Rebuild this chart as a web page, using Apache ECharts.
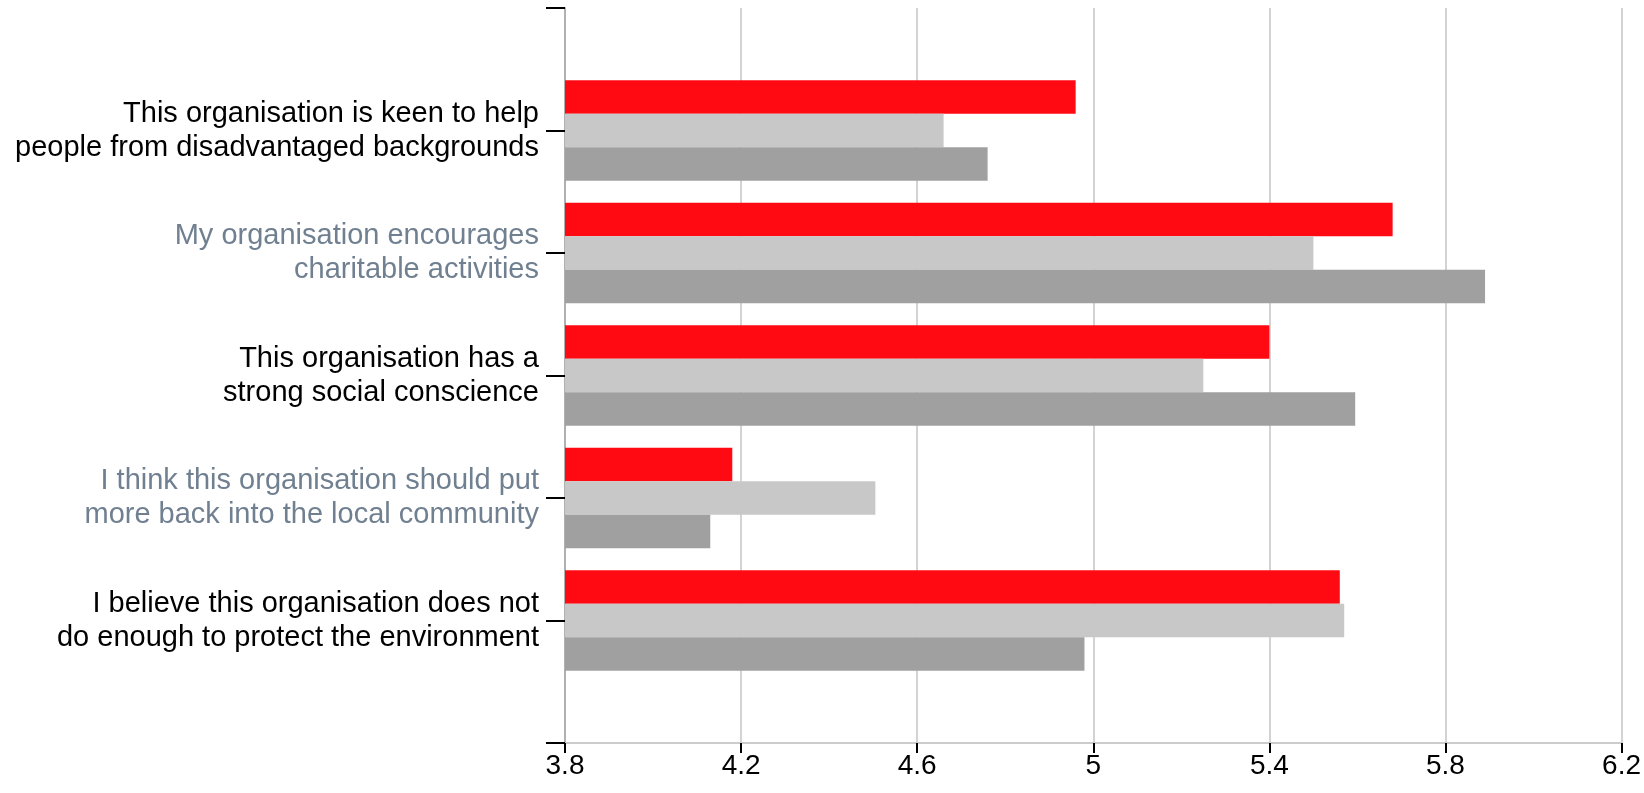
<!DOCTYPE html>
<html>
<head>
<meta charset="utf-8">
<script src="https://cdn.jsdelivr.net/npm/echarts@6/dist/echarts.min.js"></script>
<style>
  html, body { margin: 0; padding: 0; background: #ffffff; }
  #chart { width: 1644px; height: 793px; }
</style>
</head>
<body>
<div id="chart"></div>
<script>
const categories = [
  'This organisation is keen to help\npeople from disadvantaged backgrounds',
  'My organisation encourages\ncharitable activities',
  'This organisation has a\nstrong social conscience',
  'I think this organisation should put\nmore back into the local community',
  'I believe this organisation does not\ndo enough to protect the environment'
];
const seriesNames = ['Series 1', 'Series 2', 'Series 3'];
const redValues = [4.96, 5.68, 5.40, 4.18, 5.56];
const lightValues = [4.66, 5.50, 5.25, 4.505, 5.57];
const darkValues = [4.76, 5.89, 5.595, 4.13, 4.98];
const xTicks = [3.8, 4.2, 4.6, 5.0, 5.4, 5.8, 6.2];
const labelColors = ['#000000', '#708090', '#000000', '#708090', '#000000'];

const axisCats = [''].concat(categories, ['']);
const pad = (arr) => [null].concat(arr, [null]);
const font = '"Liberation Sans", Arial, Helvetica, sans-serif';

const chart = echarts.init(document.getElementById('chart'), null, { renderer: 'canvas' });
chart.setOption({
  animation: false,
  backgroundColor: '#ffffff',
  textStyle: { fontFamily: font },
  grid: { left: 565, right: 22, top: 8, bottom: 50, containLabel: false },
  xAxis: {
    type: 'value',
    min: xTicks[0],
    max: xTicks[xTicks.length - 1],
    interval: 0.4,
    axisLine: { show: true, lineStyle: { color: '#cccccc', width: 2 } },
    axisTick: { show: true, length: 10, lineStyle: { color: '#000000', width: 2 } },
    splitLine: { show: true, lineStyle: { color: '#d3d3d3', width: 2 } },
    axisLabel: {
      fontFamily: font, fontSize: 28, color: '#000000', margin: 9,
      formatter: (v) => String(Math.round(v * 10) / 10)
    }
  },
  yAxis: {
    type: 'category',
    data: axisCats,
    inverse: true,
    boundaryGap: false,
    axisLine: { show: true, lineStyle: { color: '#b0b0b0', width: 2 } },
    axisTick: { show: true, length: 19, interval: 0, lineStyle: { color: '#000000', width: 2 } },
    splitLine: { show: false },
    axisLabel: {
      interval: 0,
      margin: 26,
      fontFamily: font,
      fontSize: 29,
      lineHeight: 34,
      align: 'right',
      color: (value, index) => labelColors[(index || 0) - 1] || '#000000'
    }
  },
  series: [
    { name: seriesNames[0], type: 'bar', data: pad(redValues), itemStyle: { color: '#ff0a12' }, barGap: '0%', barCategoryGap: '18%' },
    { name: seriesNames[1], type: 'bar', data: pad(lightValues), itemStyle: { color: '#c8c8c8' }, barGap: '0%', barCategoryGap: '18%' },
    { name: seriesNames[2], type: 'bar', data: pad(darkValues), itemStyle: { color: '#a0a0a0' }, barGap: '0%', barCategoryGap: '18%' }
  ]
});
</script>
</body>
</html>
